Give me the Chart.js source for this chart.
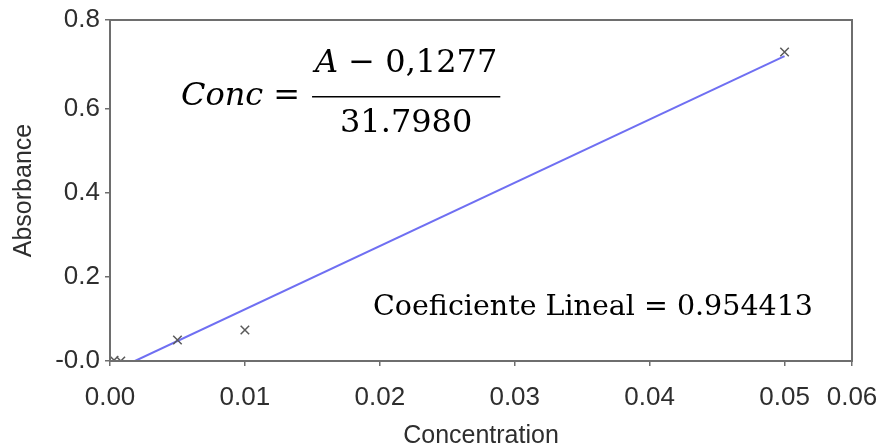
<!DOCTYPE html>
<html lang="en">

<head>
  <meta charset="UTF-8">
  <title>Absorbance vs Concentration</title>
  <script src="https://cdn.jsdelivr.net/npm/chart.js"></script>
  <style>
    body { margin: 0; background: #fff; }
    #wrap { width: 884px; height: 448px; }
  </style>
</head>

<body>
  <div id="wrap"><canvas id="calChart" width="884" height="448"></canvas></div>
  <script>
    // measured points (concentration, absorbance)
    const concValues = [0.0003, 0.0008, 0.005, 0.01, 0.05];
    const absValues = [0.002, 0.0, 0.05, 0.074, 0.736];

    // fitted line ends
    const fitConc = [0.00185, 0.05];
    const fitAbs = [0.0, 0.726];

    // axes: the last tick sits on the axis end, like the original
    const xTickValues = [0, 0.01, 0.02, 0.03, 0.04, 0.05, 0.055];
    const xTickLabels = ['0.00', '0.01', '0.02', '0.03', '0.04', '0.05', '0.06'];
    const yTickValues = [0, 0.2, 0.4, 0.6, 0.812];
    const yTickLabels = ['-0.0', '0.2', '0.4', '0.6', '0.8'];

    const axisGray = '#6e6e6e';
    const sansFont = '"Liberation Sans", Arial, sans-serif';
    const serifFont = '"DejaVu Serif", "Liberation Serif", serif';

    // frame around the plot + the two text boxes from the picture
    const notesPlugin = {
      id: 'notes',
      afterDraw(chart) {
        const { ctx, chartArea: a, scales: { x, y } } = chart;
        ctx.save();
        ctx.strokeStyle = axisGray;
        ctx.lineWidth = 2;
        ctx.strokeRect(a.left, a.top, a.right - a.left, a.bottom - a.top);

        ctx.fillStyle = '#000';
        ctx.textBaseline = 'middle';

        // Conc = (A - 0,1277) / 31.7980
        const size = 32;
        const cx = x.getPixelForValue(0.00526);
        const cy = y.getPixelForValue(0.629);
        ctx.font = 'italic ' + size + 'px ' + serifFont;
        ctx.textAlign = 'left';
        ctx.fillText('Conc', cx, cy);
        let px = cx + ctx.measureText('Conc').width + 10;
        ctx.font = size + 'px ' + serifFont;
        ctx.fillText('=', px, cy);
        px += ctx.measureText('=').width + 12;

        const numItalic = 'A';
        const numRest = ' \u2212 0,1277';
        ctx.font = 'italic ' + size + 'px ' + serifFont;
        const wA = ctx.measureText(numItalic).width;
        ctx.font = size + 'px ' + serifFont;
        const wRest = ctx.measureText(numRest).width;
        const numW = wA + wRest;
        const barW = numW + 6;
        const mid = px + barW / 2;
        const numY = y.getPixelForValue(0.707);
        ctx.font = 'italic ' + size + 'px ' + serifFont;
        ctx.fillText(numItalic, mid - numW / 2, numY);
        ctx.font = size + 'px ' + serifFont;
        ctx.fillText(numRest, mid - numW / 2 + wA, numY);

        ctx.strokeStyle = '#000';
        ctx.lineWidth = 1.5;
        ctx.beginPath();
        ctx.moveTo(px, cy);
        ctx.lineTo(px + barW, cy);
        ctx.stroke();

        ctx.textAlign = 'center';
        ctx.fillText('31.7980', mid, y.getPixelForValue(0.566));

        // Coeficiente Lineal = 0.954413
        ctx.font = '28.5px ' + serifFont;
        ctx.fillText('Coeficiente Lineal = 0.954413', x.getPixelForValue(0.0358), y.getPixelForValue(0.126));
        ctx.restore();
      }
    };

    const ctx = document.getElementById('calChart').getContext('2d');

    new Chart(ctx, {
      type: 'scatter',
      data: {
        datasets: [{
          label: 'Fit',
          type: 'line',
          data: fitConc.map((c, i) => ({ x: c, y: fitAbs[i] })),
          borderColor: '#6f6ff2',
          borderWidth: 2,
          pointRadius: 0,
          fill: false,
          order: 2
        }, {
          label: 'Samples',
          data: concValues.map((c, i) => ({ x: c, y: absValues[i] })),
          pointStyle: 'crossRot',
          pointRadius: 6,
          borderColor: '#5a5a5a',
          borderWidth: 1.5,
          order: 1
        }]
      },
      options: {
        responsive: false,
        animation: false,
        layout: { padding: { left: 0, right: 32, top: 20, bottom: 0 } },
        plugins: {
          legend: { display: false },
          tooltip: { enabled: false }
        },
        scales: {
          x: {
            type: 'linear',
            min: 0,
            max: 0.055,
            afterBuildTicks: axis => { axis.ticks = xTickValues.map(v => ({ value: v })); },
            afterFit: axis => {
              axis.height = 87;
              axis.paddingLeft = 0;
              axis.paddingRight = 0;
            },
            ticks: {
              callback: (v, i) => xTickLabels[i],
              color: '#2e2e2e',
              font: { family: sansFont, size: 26 },
              padding: 16,
              maxRotation: 0,
              autoSkip: false
            },
            grid: { drawOnChartArea: false, drawTicks: true, tickLength: 5, color: axisGray, lineWidth: 1.5 },
            border: { display: true, color: axisGray, width: 2 },
            title: {
              display: true,
              text: 'Concentration',
              color: '#2e2e2e',
              font: { family: sansFont, size: 25 },
              padding: { top: 0, bottom: -3 }
            }
          },
          y: {
            type: 'linear',
            min: 0,
            max: 0.812,
            afterBuildTicks: axis => { axis.ticks = yTickValues.map(v => ({ value: v })); },
            afterFit: axis => {
              axis.width = 110;
              axis.paddingTop = 0;
              axis.paddingBottom = 0;
            },
            ticks: {
              callback: (v, i) => yTickLabels[i],
              color: '#2e2e2e',
              font: { family: sansFont, size: 26 },
              padding: 5,
              autoSkip: false
            },
            grid: { drawOnChartArea: false, drawTicks: true, tickLength: 5, color: axisGray, lineWidth: 1.5 },
            border: { display: true, color: axisGray, width: 2 },
            title: {
              display: true,
              text: 'Absorbance',
              color: '#2e2e2e',
              font: { family: sansFont, size: 25 },
              padding: { top: 9, bottom: 0 }
            }
          }
        }
      },
      plugins: [notesPlugin]
    });
  </script>
</body>

</html>
